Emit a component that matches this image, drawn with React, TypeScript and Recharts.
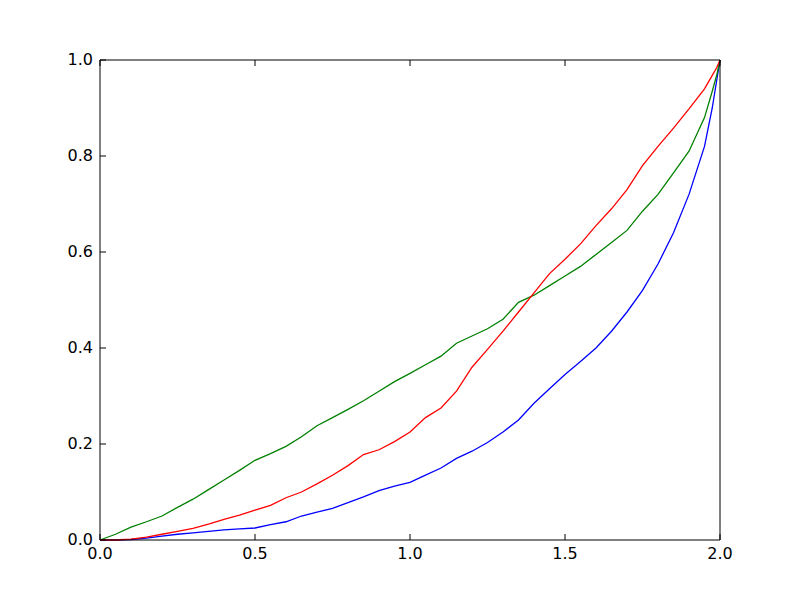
import React from "react";
import { LineChart, Line, XAxis, YAxis } from "recharts";

const xs = [
  0, 0.05, 0.1, 0.15, 0.2, 0.25, 0.3, 0.35, 0.4, 0.45, 0.5, 0.55, 0.6, 0.65,
  0.7, 0.75, 0.8, 0.85, 0.9, 0.95, 1.0, 1.05, 1.1, 1.15, 1.2, 1.25, 1.3, 1.35,
  1.4, 1.45, 1.5, 1.55, 1.6, 1.65, 1.7, 1.75, 1.8, 1.85, 1.9, 1.95, 1.975,
  1.99, 2.0,
];

const blue = [
  0, 0, 0.001, 0.004, 0.008, 0.012, 0.015, 0.018, 0.021, 0.023, 0.025, 0.032,
  0.038, 0.05, 0.058, 0.066, 0.078, 0.09, 0.103, 0.112, 0.12, 0.135, 0.15,
  0.17, 0.185, 0.203, 0.225, 0.25, 0.285, 0.315, 0.345, 0.372, 0.4, 0.435,
  0.475, 0.52, 0.575, 0.64, 0.72, 0.82, 0.9, 0.96, 1.0,
];

const green = [
  0, 0.012, 0.027, 0.038, 0.05, 0.068, 0.085, 0.105, 0.125, 0.145, 0.166,
  0.18, 0.195, 0.215, 0.238, 0.255, 0.272, 0.29, 0.31, 0.33, 0.347, 0.365,
  0.383, 0.41, 0.425, 0.44, 0.46, 0.495, 0.51, 0.53, 0.55, 0.57, 0.595, 0.62,
  0.645, 0.685, 0.72, 0.765, 0.81, 0.88, 0.935, 0.97, 1.0,
];

const red = [
  0, 0, 0.002, 0.006, 0.012, 0.018, 0.024, 0.033, 0.043, 0.052, 0.062, 0.072,
  0.088, 0.1, 0.117, 0.135, 0.155, 0.178, 0.188, 0.205, 0.225, 0.255, 0.275,
  0.31, 0.36, 0.397, 0.435, 0.475, 0.515, 0.555, 0.585, 0.617, 0.655, 0.69,
  0.73, 0.78, 0.82, 0.858, 0.898, 0.94, 0.968, 0.985, 1.0,
];

const xTicks = [0, 0.5, 1.0, 1.5, 2.0];
const yTicks = [0, 0.2, 0.4, 0.6, 0.8, 1.0];

const data = xs.map((x, i) => ({ x, blue: blue[i], green: green[i], red: red[i] }));

const FONT = "'DejaVu Sans', sans-serif";
const TICK = 6;
const FS = 16;

const BottomTick = (props: any) => {
  const { x, y, payload } = props;
  return (
    <g>
      <line x1={x} y1={y} x2={x} y2={y - TICK} stroke="#000" />
      <text x={x} y={y + 19} textAnchor="middle" fontSize={FS} fontFamily={FONT} fill="#000">
        {payload.value.toFixed(1)}
      </text>
    </g>
  );
};

const TopTick = (props: any) => {
  const { x, y } = props;
  return <line x1={x} y1={y} x2={x} y2={y + TICK} stroke="#000" />;
};

const LeftTick = (props: any) => {
  const { x, y, payload } = props;
  return (
    <g>
      <line x1={x} y1={y} x2={x + TICK} y2={y} stroke="#000" />
      <text x={x - 7} y={y + 5} textAnchor="end" fontSize={FS} fontFamily={FONT} fill="#000">
        {payload.value.toFixed(1)}
      </text>
    </g>
  );
};

const RightTick = (props: any) => {
  const { x, y } = props;
  return <line x1={x} y1={y} x2={x - TICK} y2={y} stroke="#000" />;
};

export default function App() {
  return (
    <div style={{ position: "absolute", left: 0, top: 0, width: 800, height: 600, background: "#fff" }}>
      <LineChart
        width={800}
        height={600}
        data={data}
        margin={{ top: 59, right: 79, bottom: 30, left: 40 }}
      >
        <XAxis
          dataKey="x"
          type="number"
          domain={[0, 2]}
          ticks={xTicks}
          height={30}
          tickSize={0}
          tickMargin={0}
          tickLine={false}
          axisLine={{ stroke: "#000" }}
          tick={<BottomTick />}
          interval={0}
        />
        <XAxis
          xAxisId="top"
          orientation="top"
          dataKey="x"
          type="number"
          domain={[0, 2]}
          ticks={xTicks}
          height={1}
          tickSize={0}
          tickMargin={0}
          tickLine={false}
          axisLine={{ stroke: "#000" }}
          tick={<TopTick />}
          interval={0}
        />
        <YAxis
          type="number"
          domain={[0, 1]}
          ticks={yTicks}
          width={60}
          tickSize={0}
          tickMargin={0}
          tickLine={false}
          axisLine={{ stroke: "#000" }}
          tick={<LeftTick />}
          interval={0}
        />
        <YAxis
          yAxisId="right"
          orientation="right"
          type="number"
          domain={[0, 1]}
          ticks={yTicks}
          width={1}
          tickSize={0}
          tickMargin={0}
          tickLine={false}
          axisLine={{ stroke: "#000" }}
          tick={<RightTick />}
          interval={0}
        />
        <Line type="linear" dataKey="blue" stroke="#0000ff" strokeWidth={1.3} dot={false} isAnimationActive={false} />
        <Line type="linear" dataKey="green" stroke="#008000" strokeWidth={1.3} dot={false} isAnimationActive={false} />
        <Line type="linear" dataKey="red" stroke="#ff0000" strokeWidth={1.3} dot={false} isAnimationActive={false} />
      </LineChart>
    </div>
  );
}
